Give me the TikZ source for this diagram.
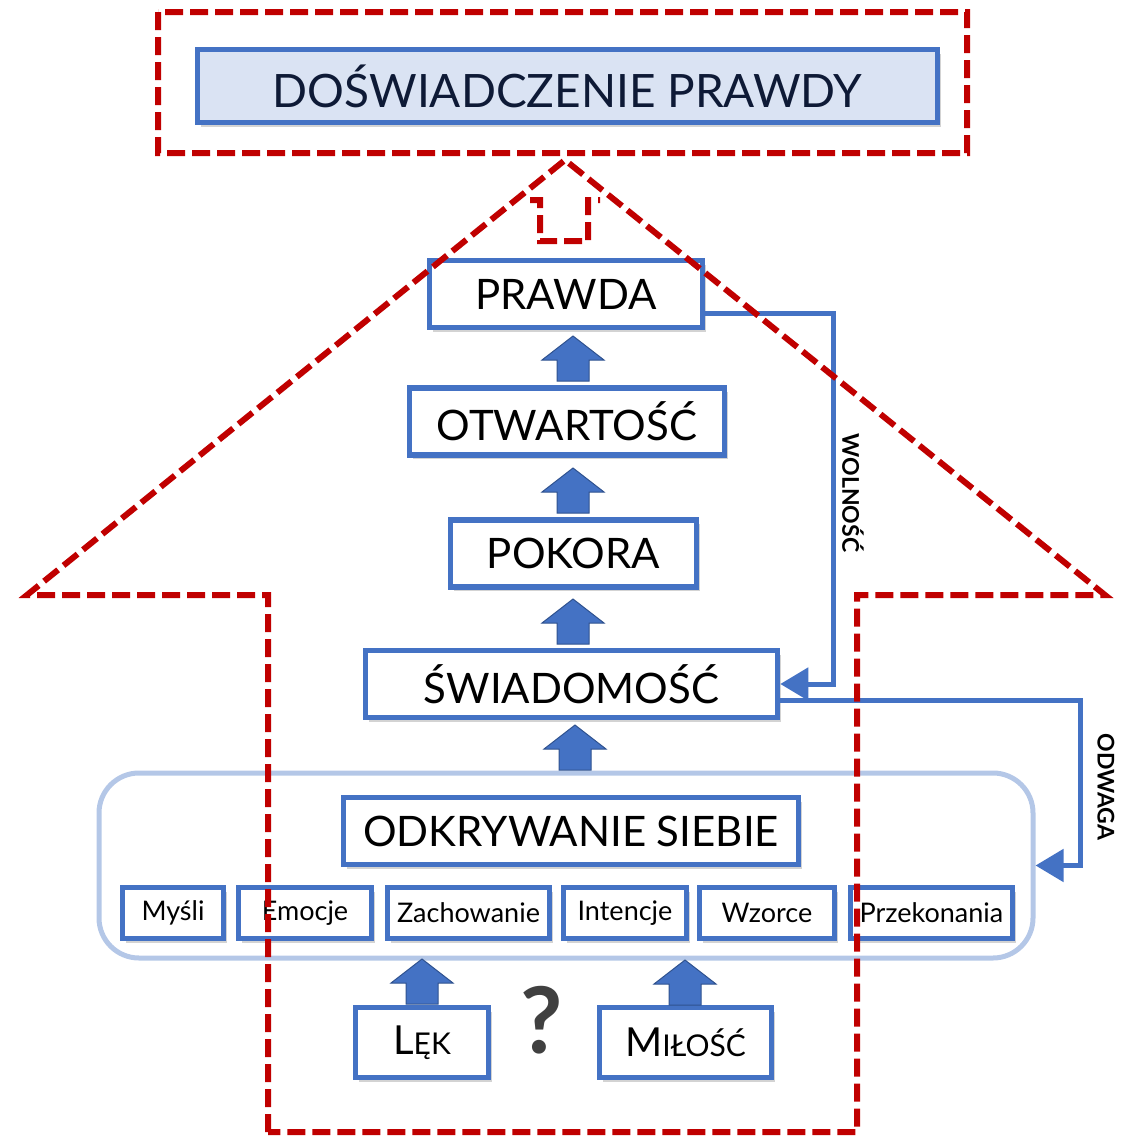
\documentclass[tikz,border=0pt]{standalone}
\usepackage{fontspec}
\setmainfont{Lato}
\usetikzlibrary{arrows.meta,shadows}
\definecolor{boxblue}{HTML}{4472C4}
\definecolor{titlefill}{HTML}{DAE3F3}
\definecolor{grpblue}{HTML}{B4C7E7}
\definecolor{arrdark}{HTML}{2F528F}
\definecolor{redd}{HTML}{C00000}
\definecolor{qgray}{HTML}{404040}
\definecolor{navy}{HTML}{0E1A36}
\newcommand{\smcap}[2]{{\fontsize{40}{40}\selectfont #1}{\fontsize{30}{30}\selectfont #2}}

\tikzset{
    box/.style={draw=boxblue, line width=5.5pt, fill=white, inner sep=0pt,
        minimum height=67pt, font=\fontsize{42}{42}\selectfont,
        drop shadow={shadow xshift=3pt, shadow yshift=-4pt, opacity=.35}},
    titlebox/.style={box, fill=titlefill, minimum height=73pt,
        text=navy, font=\fontsize{46}{46}\selectfont},
    smallbox/.style={box, minimum height=51pt, font=\fontsize{27}{27}\selectfont},
    grpbox/.style={draw=grpblue, line width=5pt, rounded corners=40pt,
        minimum width=934pt, minimum height=185pt},
    conn/.style={draw=boxblue, line width=5pt,
        -{Triangle[length=28pt,width=32pt]}},
    sidelab/.style={rotate=-90, font=\fontsize{23}{23}\selectfont\bfseries},
    reddash/.style={draw=redd, line width=6pt, dash pattern=on 18pt off 7pt},
    blockarr/.style={fill=boxblue, draw=arrdark, line width=1pt},
    uparr/.pic={
        \path[blockarr] (-16,0) -- (-16,-21) -- (-31,-21) -- (0,-45)
            -- (31,-21) -- (16,-21) -- (16,0) -- cycle;
    }
}

\begin{document}
\begin{tikzpicture}[x=1pt,y=-1pt]
    \useasboundingbox (0,0) rectangle (1127,1138);

    \node[grpbox] (grp) at (566,865.5) {};

    \node[titlebox, minimum width=740pt] (title) at (567.5,86) {DOŚWIADCZENIE PRAWDY};
    \node[box, minimum width=273pt] (prawda) at (566,294) {PRAWDA};
    \node[box, minimum width=315pt] (otw) at (567,421.5) {OTWARTOŚĆ};
    \node[box, minimum width=246pt] (pokora) at (573.5,553.5) {POKORA};
    \node[box, minimum width=412pt] (swiad) at (571.5,684) {ŚWIADOMOŚĆ};
    \node[box, minimum width=455pt] (odkr) at (571,831) {ODKRYWANIE SIEBIE};

    \foreach \cx/\w/\lab/\nm in {%
        173/101/Myśli/mysli,
        305/133/Emocje/emocje,
        468.5/162/Zachowanie/zach,
        625/123/Intencje/intencje,
        767/135/Wzorce/wzorce,
        931.5/162/Przekonania/przek%
    }{
        \node[smallbox, minimum width=\w pt] (\nm) at (\cx,913) {\lab};
    }

    \node[box, minimum width=133pt, minimum height=70pt] (lek) at (422,1042.5) {\smcap{L}{ĘK}};
    \node[box, minimum width=172pt, minimum height=70pt] (milosc) at (685.5,1042.5) {\smcap{M}{IŁOŚĆ}};
    \node[text=qgray, font=\fontsize{92}{92}\selectfont\bfseries] (qm) at (542,1020) {?};

    \foreach \ax/\ay in {573/381, 573/513, 573/644, 575/770, 422/1004, 685/1005}{
        \pic at (\ax,\ay) {uparr};
    }

    \coordinate (wol) at (833,313);
    \coordinate (odw) at (1080,700);
    \draw[conn] ([yshift=-19pt]prawda.east) -- (wol) |- (swiad.east);
    \draw[conn] ([yshift=-16pt]swiad.east) -- (odw) |- (grp.east);
    \node[sidelab] (wollab) at (853,493) {WOLNOŚĆ};
    \node[sidelab] (odwlab) at (1106,787) {ODWAGA};

    \draw[reddash]
        (158,12) rectangle (967,153)
        (268,1132) -- (268,595) -- (27,595) -- (565,160) -- (1105,595)
            -- (857,595) -- (857,1132) -- cycle
        (530,200) -- (540,200) -- (540,241) -- (588,241) -- (588,200) -- (600,200);
\end{tikzpicture}
\end{document}
